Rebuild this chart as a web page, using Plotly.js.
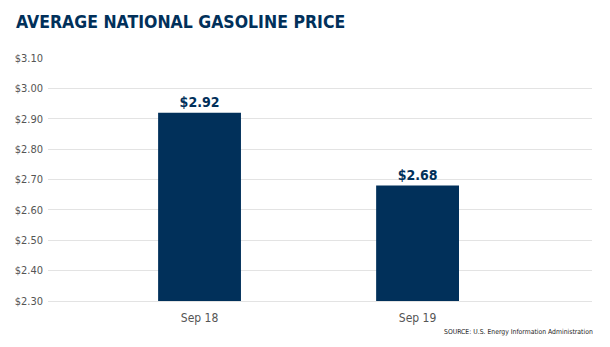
<!DOCTYPE html>
<html><head><meta charset="utf-8">
<script src="https://cdn.plot.ly/plotly-3.0.1.min.js"></script>
<style>html,body{margin:0;padding:0;background:#fff}</style>
</head><body>
<div id="chart" style="width:610px;height:347px"></div>
<script>
const categories = ["Sep 18", "Sep 19"];
const prices = [2.92, 2.68];
const priceLabels = ["$2.92", "$2.68"];
const tickValues = [2.30, 2.40, 2.50, 2.60, 2.70, 2.80, 2.90, 3.00, 3.10];
const tickLabels = ["$2.30", "$2.40", "$2.50", "$2.60", "$2.70", "$2.80", "$2.90", "$3.00", "$3.10"];
const sourceText = "SOURCE: U.S. Energy Information Administration";

const navy = "#01305a";
const condensed = "'DejaVu Sans Condensed', 'DejaVu Sans', sans-serif";

Plotly.newPlot("chart", [{
  type: "bar",
  x: categories,
  y: prices,
  text: priceLabels,
  textposition: "outside",
  cliponaxis: false,
  textfont: {family: condensed, size: 14, color: navy, weight: "bold"},
  marker: {color: navy},
  width: 0.38,
  hoverinfo: "none"
}], {
  width: 610, height: 347,
  margin: {l: 48, r: 18, t: 58, b: 46},
  paper_bgcolor: "#fff", plot_bgcolor: "#fff",
  showlegend: false,
  title: {
    text: "AVERAGE NATIONAL GASOLINE PRICE",
    font: {family: condensed, size: 17.5, color: navy, weight: "bold"},
    x: 16/610, xref: "container", xanchor: "left",
    y: 1 - 22/347, yref: "container", yanchor: "middle"
  },
  xaxis: {
    type: "category",
    range: [-0.695, 1.80],
    showgrid: false,
    showline: true, linecolor: "#e3e3e3", linewidth: 1,
    ticks: "",
    ticklabelstandoff: 6,
    tickfont: {family: condensed, size: 12, color: "#555"},
    fixedrange: true
  },
  yaxis: {
    range: [2.30, 3.10],
    tickvals: tickValues,
    ticktext: tickLabels,
    showgrid: true, gridcolor: "#e3e3e3", gridwidth: 1,
    zeroline: false,
    ticks: "",
    ticklabelstandoff: 4,
    tickfont: {family: condensed, size: 11, color: "#555"},
    fixedrange: true
  },
  annotations: [{
    text: sourceText,
    xref: "paper", yref: "paper",
    x: 1, y: 0, xanchor: "right", yanchor: "top", yshift: -25, xshift: 3,
    showarrow: false,
    font: {family: condensed, size: 6.8, color: "#222"}
  }]
}, {displayModeBar: false, staticPlot: true});
</script>
</body></html>
